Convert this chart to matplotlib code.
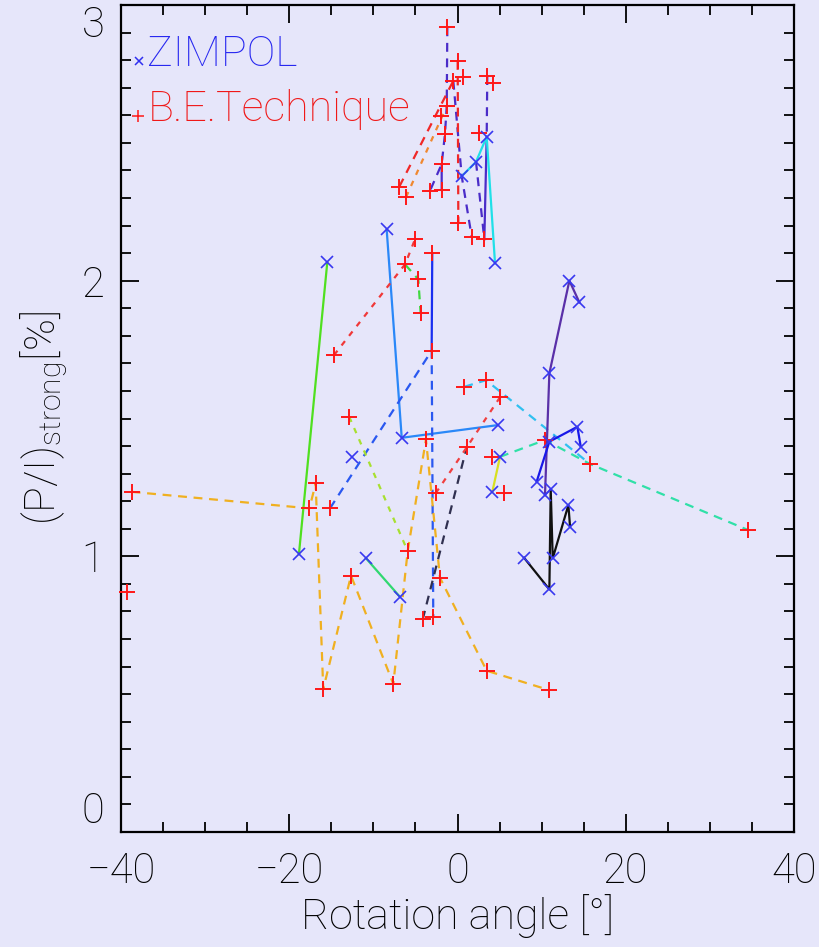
import numpy as np
import matplotlib
matplotlib.use("Agg")
import matplotlib.pyplot as plt

nan = np.nan

# ---------------- data ----------------
# ZIMPOL points (x marks)
zimpol_x = [-15.48, -18.85, -8.42, -6.63, 4.78, -12.58, -10.88, -6.84, 3.47, 2.20,
            0.50, 4.46, 13.30, 14.49, 10.92, 10.92, 14.25, 14.65, 9.41, 10.40,
            11.08, 13.18, 13.38, 11.32, 7.91, 10.92, 5.05, 4.14]
zimpol_y = [2.066, 1.008, 2.186, 1.430, 1.476, 1.361, 0.993, 0.853, 2.522, 2.431,
            2.379, 2.063, 2.000, 1.921, 1.664, 1.416, 1.470, 1.398, 1.271, 1.222,
            1.243, 1.186, 1.107, 0.993, 0.995, 0.880, 1.361, 1.234]

# B.E. Technique points (+ marks)
be_x = [-1.21, 0.02, 0.69, -0.50, 3.54, 4.26, -1.28, -2.00, -1.49, 2.59,
        -1.88, -6.92, -6.12, -3.27, -1.88, 0.10, 1.69, 3.19, -5.05, -6.24,
        -4.66, -4.38, -3.00, -3.07, -14.68, -12.87, -16.86, -17.60, -15.16, -12.66,
        -15.96, -7.63, -5.92, -3.75, -2.59, -2.08, -4.14, -2.88, 3.47, 10.88,
        1.09, 5.05, 0.81, 3.39, 4.07, 5.57, 10.40, 15.75, 34.58, -38.74, -39.34]
be_y = [2.919, 2.797, 2.740, 2.725, 2.742, 2.718, 2.633, 2.597, 2.532, 2.534,
        2.423, 2.341, 2.303, 2.326, 2.329, 2.210, 2.159, 2.150, 2.150, 2.059,
        2.005, 1.881, 2.099, 1.746, 1.730, 1.506, 1.265, 1.174, 1.174, 0.930,
        0.518, 0.537, 1.019, 1.424, 1.229, 0.922, 0.771, 0.781, 0.585, 0.515,
        1.395, 1.577, 1.615, 1.639, 1.361, 1.229, 1.422, 1.335, 1.095, 1.234, 0.872]

# connecting lines, one per object (nan breaks a line)
indigo_dash_x = [-1.21, -1.28, -1.49, -1.88, -3.27, nan, -0.50, 0.50, 1.69, nan,
                 3.54, 3.47, nan, 2.20, 3.19]
indigo_dash_y = [2.919, 2.633, 2.532, 2.423, 2.326, nan, 2.725, 2.379, 2.159, nan,
                 2.742, 2.522, nan, 2.431, 2.150]
indigo_solid_x = [-1.88, -1.88, nan, 3.47, 3.19]
indigo_solid_y = [2.423, 2.329, nan, 2.522, 2.150]
cyan_solid_x = [0.50, 2.20, 3.47, 4.46]
cyan_solid_y = [2.379, 2.431, 2.522, 2.063]
red_top_x = [0.02, 0.10, nan, -6.92, -0.50]
red_top_y = [2.797, 2.210, nan, 2.341, 2.725]
orange_top_x = [-6.12, -1.28]
orange_top_y = [2.303, 2.633]

green_solid_x = [-15.48, -18.85]
green_solid_y = [2.066, 1.008]
dodger_solid_x = [-8.42, -6.63, 4.78]
dodger_solid_y = [2.186, 1.430, 1.476]
blue_solid_x = [-3.00, -3.07]
blue_solid_y = [2.099, 1.746]
blue_dash_x = [-15.16, -3.07, -2.88]
blue_dash_y = [1.174, 1.746, 0.781]
red_mid_x = [-14.68, -6.24, -5.05]
red_mid_y = [1.730, 2.059, 2.150]
green_dash_x = [-6.24, -4.66, -4.38]
green_dash_y = [2.059, 2.005, 1.881]
ygreen_dash_x = [-12.87, -5.92]
ygreen_dash_y = [1.506, 1.019]
sea_solid_x = [-10.88, -6.84]
sea_solid_y = [0.993, 0.853]
orange_x = [-38.74, -17.60, -16.86, -15.96, -12.66, -7.63, -5.92, -3.75, -2.08, 3.47, 10.88]
orange_y = [1.234, 1.174, 1.265, 0.518, 0.930, 0.537, 1.019, 1.424, 0.922, 0.585, 0.515]
dark_dash_x = [-4.14, 1.09]
dark_dash_y = [0.771, 1.395]
red_low_x = [-2.59, 1.09, 5.05]
red_low_y = [1.229, 1.395, 1.577]
sky_dash_x = [0.81, 3.39, 15.75]
sky_dash_y = [1.615, 1.639, 1.335]
aqua_dash_x = [5.05, 10.40, 15.75, 34.58]
aqua_dash_y = [1.361, 1.422, 1.335, 1.095]
yellow_solid_x = [4.14, 5.05]
yellow_solid_y = [1.234, 1.361]
purple_solid_x = [14.49, 13.30, 10.92, 10.40]
purple_solid_y = [1.921, 2.000, 1.664, 1.222]
blue_right_x = [9.41, 10.92, 14.25, 14.65]
blue_right_y = [1.271, 1.416, 1.470, 1.398]
black_x = [7.91, 10.92, 11.08, 11.32, 13.18, 13.38]
black_y = [0.995, 0.880, 1.243, 0.993, 1.186, 1.107]

x_ticks = [-40, -20, 0, 20, 40]
y_ticks = [0, 1, 2, 3]

# ---------------- plotting ----------------
plt.rcParams['font.family'] = ['Roboto', 'DejaVu Sans']
plt.rcParams['mathtext.fontset'] = 'custom'
plt.rcParams['mathtext.rm'] = 'Roboto:light'

BG = '#e6e6fa'
DASH = (0, (4, 3))
DOT = (0, (2.5, 3))

fig = plt.figure(figsize=(8.19, 9.47), dpi=100, facecolor=BG)
ax = fig.add_axes([121/819, 115/947, 673/819, 827/947], facecolor=BG)

lines = [
    (indigo_dash_x, indigo_dash_y, '#4a2cc8', DASH),
    (indigo_solid_x, indigo_solid_y, '#4a2cc8', '-'),
    (cyan_solid_x, cyan_solid_y, '#20e0e8', '-'),
    (red_top_x, red_top_y, '#f02828', DASH),
    (orange_top_x, orange_top_y, '#f08830', DOT),
    (green_solid_x, green_solid_y, '#50e020', '-'),
    (dodger_solid_x, dodger_solid_y, '#2a88f8', '-'),
    (blue_solid_x, blue_solid_y, '#1a30f0', '-'),
    (blue_dash_x, blue_dash_y, '#2a58f0', DASH),
    (red_mid_x, red_mid_y, '#f03838', DOT),
    (green_dash_x, green_dash_y, '#40d840', DASH),
    (ygreen_dash_x, ygreen_dash_y, '#a8e030', DOT),
    (sea_solid_x, sea_solid_y, '#30d870', '-'),
    (orange_x, orange_y, '#f0b020', DASH),
    (dark_dash_x, dark_dash_y, '#303050', DASH),
    (red_low_x, red_low_y, '#f04040', DOT),
    (sky_dash_x, sky_dash_y, '#30c0f0', DASH),
    (aqua_dash_x, aqua_dash_y, '#30e0a8', DASH),
    (yellow_solid_x, yellow_solid_y, '#d8e020', '-'),
    (purple_solid_x, purple_solid_y, '#5a30a8', '-'),
    (blue_right_x, blue_right_y, '#1818e8', '-'),
    (black_x, black_y, '#101010', '-'),
]
for xs, ys, col, ls in lines:
    ax.plot(xs, ys, color=col, linestyle=ls, lw=1.6, zorder=2)

ax.plot(be_x, be_y, linestyle='none', marker='+', ms=11, mew=1.4,
        color='#ff1818', zorder=3, clip_on=False)
ax.plot(zimpol_x, zimpol_y, linestyle='none', marker='x', ms=9, mew=1.2,
        color='#3838f0', zorder=3)

# legend written as text, IDL style
ax.plot([0.027], [0.932], transform=ax.transAxes, marker='x', ms=6, mew=1.1,
        color='#3030f0', linestyle='none')
ax.text(0.039, 0.940, 'ZIMPOL', transform=ax.transAxes, color='#2828f0',
        fontsize=31, fontweight='light', va='center', ha='left')
ax.plot([0.025], [0.866], transform=ax.transAxes, marker='+', ms=8, mew=1.1,
        color='#ff1818', linestyle='none')
ax.text(0.040, 0.874, 'B.E.Technique', transform=ax.transAxes, color='#f01818',
        fontsize=31, fontweight='light', va='center', ha='left')

ax.set_xlim(-40, 40)
ax.set_ylim(0, 3)
ax.set_xticks(x_ticks)
ax.set_yticks(y_ticks)
ax.set_xticklabels(['\u221240', '\u221220', '0', '20', '40'])
ax.set_xticks(np.arange(-40, 41, 5), minor=True)
ax.set_yticks(np.arange(0, 3.01, 0.1), minor=True)
ax.tick_params(which='both', direction='in', top=True, right=True,
               width=1.3, color='black', labelsize=30)
ax.tick_params(which='major', length=13)
ax.tick_params(which='minor', length=7)
ax.tick_params(axis='x', pad=14)
ax.tick_params(axis='y', pad=12)
for lab in ax.get_xticklabels() + ax.get_yticklabels():
    lab.set_fontweight('light')
ylabs = ax.get_yticklabels()
ylabs[0].set_va('bottom')
ylabs[-1].set_va('top')
for s in ax.spines.values():
    s.set_linewidth(1.6)

ax.set_xlabel('Rotation angle [\u00b0]', fontsize=31, fontweight='light', labelpad=1)
ax.set_ylabel(r'(P/I)$_{\rm strong}$[%]', fontsize=31, fontweight='light', labelpad=8)

fig.savefig('out.png', dpi=100, facecolor=BG)
